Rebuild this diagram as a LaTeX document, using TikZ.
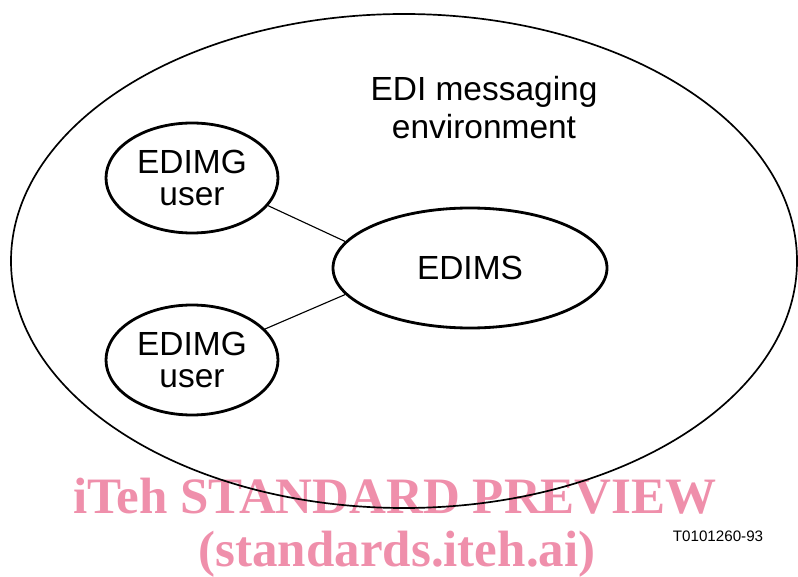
\documentclass[tikz,border=0pt]{standalone}
\usepackage{fontspec}
\setmainfont{Liberation Sans}
\newfontfamily\wmfont{Liberation Serif}
\usepackage{xcolor}
\usepackage{tikz}
\usetikzlibrary{shapes.geometric}
\definecolor{wmpink}{RGB}{239,143,171}

\begin{document}
\begin{tikzpicture}[thick, main/.style = {draw, ellipse, line width=2pt, inner sep=0pt, minimum width=4.3cm, minimum height=2.75cm, align=center, font=\fontsize{23.8}{23.4}\selectfont}, stamp/.style = {text=wmpink, anchor=base, font=\wmfont\bfseries\fontsize{36.3}{40}\selectfont}]
    \useasboundingbox (0,0) rectangle (19.95,14.4);

    % watermark goes first so the outline is drawn on top of it
    \node [stamp] (8) at (9.875, 1.575) {iTeh STANDARD PREVIEW};
    \node [stamp] (9) at (9.925, 0.25) {(standards.iteh.ai)};

    \node [draw, ellipse, line width=1.2pt, minimum width=19.65cm, minimum height=12.35cm] (0) at (10.1, 7.875) {};
    \node [align=center, font=\fontsize{23.8}{27}\selectfont] (1) at (12.1, 11.7) {EDI messaging\\environment};
    \node [main] (2) at (4.8, 9.95) {EDIMG\\user};
    \node [main] (3) at (4.8, 5.4) {EDIMG\\user};
    \node [main, minimum width=6.85cm, minimum height=3cm] (4) at (11.75, 7.7) {EDIMS};
    \node [font=\fontsize{10.8}{12}\selectfont] (5) at (17.95, 1.0) {T0101260-93};

    \draw (2.-20) -- (4.168);
    \draw (3.23) -- (4.192);

\end{tikzpicture}
\end{document}
